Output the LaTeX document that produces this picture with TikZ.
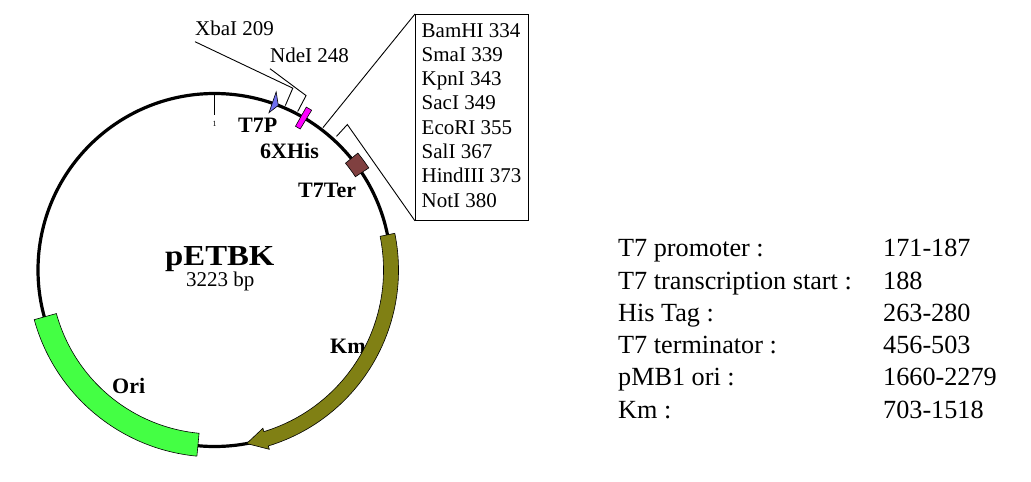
\documentclass[tikz,border=0pt]{standalone}
\usepackage{fontspec}
\setmainfont{Liberation Serif}
\usepackage{graphicx}
\definecolor{origreen}{RGB}{68,255,68}
\definecolor{kmolive}{RGB}{128,128,20}
\definecolor{terbrown}{RGB}{128,64,64}
\definecolor{hismag}{RGB}{255,0,255}
\definecolor{tpblue}{RGB}{112,112,240}
\begin{document}
\begin{tikzpicture}[x=1pt,y=-1pt,
  thinline/.style={line width=0.9pt},
  feat/.style={draw=black,line width=0.6pt},
  bl/.style={font=\fontsize{22}{26}\selectfont\bfseries, inner sep=0pt, anchor=base west},
  sitelab/.style={font=\fontsize{21}{24}\selectfont, inner sep=0pt, anchor=base west, text depth=6.5pt},
  mcstext/.style={font=\fontsize{21}{24}\selectfont, inner sep=0pt, anchor=base west},
  tab/.style={font=\fontsize{26.2}{31}\selectfont, inner sep=0pt, anchor=base west}]
\path[fill=white] (0,0) rectangle (1031,482);
\useasboundingbox (0,0) rectangle (1031,482);
\coordinate (C) at (214.5,270);
% labels under the bands
\node[bl] (kmlab) at (330,353) {Km};
\node[bl] (orilab) at (112,393) {Ori};
\node[bl] (t7plab) at (238,132) {T7P};
\node[bl] (hislab) at (260,158) {6XHis};
\node[bl] (terlab) at (298,197) {T7Ter};
\node[font=\fontsize{29}{32}\selectfont\bfseries, inner sep=0pt, anchor=base west] (name) at (165,265) {\scalebox{1.13}[1]{pETBK}};
\node[font=\fontsize{21}{24}\selectfont, inner sep=0pt, anchor=base west] (size) at (186,286) {3223 bp};
% backbone
\draw[line width=3.2pt] (C) circle[radius=176.5];
% site labels and MCS box
\node[sitelab] (xba) at (195,35) {XbaI 209};
\node[sitelab] (nde) at (270,62) {NdeI 248};
\node[draw, line width=0.9pt, minimum width=113, minimum height=206, anchor=north west, inner sep=0pt] (mcs) at (415,14) {};
\foreach \t [count=\i from 0] in {BamHI 334,SmaI 339,KpnI 343,SacI 349,EcoRI 355,SalI 367,HindIII 373,NotI 380}
  \node[mcstext] (m\i) at (421.5,{37+24.3*\i}) {\t};
\begin{scope}[shift={(C)}]
  % position 1 tick
  \coordinate (tk1) at (-90:176.5);
  \coordinate (tk2) at (-90:155);
  \draw[thinline] (tk1) -- (tk2);
  \node[font=\fontsize{8}{9}\selectfont, inner sep=0pt] (one) at (-90:146.5) {1};
  % Ori
  \draw[feat,fill=origreen] (95.4:164) arc[start angle=95.4,end angle=164.6,radius=164]
     -- (164.6:187) arc[start angle=164.6,end angle=95.4,radius=187] -- cycle;
  % Km
  \draw[feat,fill=kmolive] (-11.5:169) arc[start angle=-11.5,end angle=73,radius=169]
     -- (73:165.5) -- (79.5:176.5) -- (73:187.5) -- (73:184)
     arc[start angle=73,end angle=-11.5,radius=184] -- cycle;
  % T7 terminator
  \draw[feat,fill=terbrown] (-39.2:169) arc[start angle=-39.2,end angle=-33.5,radius=169]
     -- (-33.5:185) arc[start angle=-33.5,end angle=-39.2,radius=185] -- cycle;
  % 6XHis
  \draw[feat,fill=hismag] (-60.6:165) arc[start angle=-60.6,end angle=-58.7,radius=165]
     -- (-58.7:187) arc[start angle=-58.7,end angle=-60.6,radius=187] -- cycle;
  % T7 promoter
  \draw[feat,fill=tpblue] (-70.9:166.5) -- (-70.9:188.5) -- (-68.8:176.5) -- cycle;
  % XbaI
  \coordinate (xb1) at (-66.7:179);
  \coordinate (xb2) at (-66.7:198);
  % NdeI
  \coordinate (nd1) at (-62.3:179);
  \coordinate (nd2) at (-62.3:197);
  % MCS ends
  \coordinate (ms1) at (-52.7:179);
  \coordinate (me1) at (-47.6:181);
  \coordinate (me2) at (-47.6:197);
\end{scope}
\draw[thinline] (xb1) -- (xb2) -- (xba.south west);
\draw[thinline] (nd1) -- (nd2) -- (nde.south west);
\draw[thinline] (ms1) -- (mcs.north west);
\draw[thinline] (me1) -- (me2) -- (mcs.south west);
% feature table
\foreach \l/\v [count=\i from 0] in {T7 promoter :/171-187, T7 transcription start :/188, His Tag :/263-280, T7 terminator :/456-503, pMB1 ori :/1660-2279, Km :/703-1518}{
  \node[tab] (tl\i) at (618,{256.7+32.3*\i}) {\l};
  \node[tab] (tv\i) at (883,{256.7+32.3*\i}) {\v};
}
\end{tikzpicture}
\end{document}
